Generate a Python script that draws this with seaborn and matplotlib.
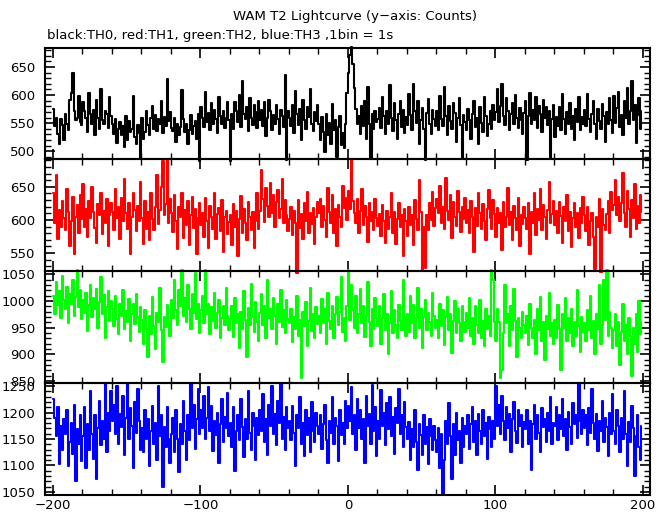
import numpy as np
import pandas as pd
import matplotlib
matplotlib.use("Agg")
import matplotlib.pyplot as plt
from matplotlib.ticker import MultipleLocator
import seaborn as sns

# time bins (1 bin = 1 s), start of each bin relative to trigger
time_s = list(range(-200, 200))

th0_counts = [
    575, 545, 560, 530, 512, 558, 547, 520, 566, 549, 538, 592, 603, 640, 571, 556, 560, 598, 552, 547,
    588, 571, 560, 535, 604, 566, 548, 573, 529, 591, 560, 540, 610, 555, 548, 572, 566, 541, 597, 562,
    548, 531, 557, 514, 540, 552, 528, 545, 507, 562, 519, 553, 535, 540, 598, 525, 513, 546, 533, 488,
    560, 522, 534, 571, 547, 529, 559, 581, 540, 565, 536, 557, 548, 590, 532, 561, 544, 628, 553, 570,
    541, 536, 560, 517, 549, 528, 543, 609, 557, 534, 548, 512, 538, 565, 530, 545, 553, 521, 567, 482,
    579, 560, 543, 605, 552, 568, 538, 586, 549, 574, 557, 532, 596, 563, 548, 571, 541, 560, 587, 555,
    482, 566, 540, 588, 571, 552, 601, 543, 625, 567, 558, 579, 536, 594, 560, 547, 583, 569, 541, 590,
    556, 574, 545, 588, 527, 560, 592, 571, 538, 565, 549, 582, 557, 530, 574, 562, 543, 635, 484, 571,
    560, 545, 583, 532, 608, 566, 547, 575, 520, 592, 556, 540, 578, 561, 610, 549, 536, 570, 554, 582,
    548, 520, 561, 535, 498, 566, 529, 550, 512, 584, 537, 556, 490, 543, 562, 511, 532, 505, 548, 603,
    640, 672, 686, 655, 612, 575, 548, 562, 531, 580, 545, 590, 522, 615, 548, 486, 566, 539, 571, 552,
    558, 577, 541, 596, 563, 530, 572, 549, 618, 560, 536, 585, 555, 521, 567, 590, 543, 574, 532, 561,
    546, 602, 565, 538, 620, 571, 550, 589, 513, 556, 577, 540, 485, 568, 593, 549, 530, 574, 558, 545,
    571, 537, 599, 558, 544, 615, 562, 529, 581, 553, 540, 586, 568, 517, 560, 594, 547, 487, 565, 552,
    538, 575, 556, 521, 566, 590, 543, 560, 512, 578, 551, 535, 597, 562, 527, 548, 571, 540, 583, 556,
    569, 610, 552, 581, 620, 563, 547, 594, 571, 538, 566, 585, 549, 601, 560, 542, 577, 555, 531, 568,
    589, 485, 562, 604, 548, 573, 556, 597, 541, 580, 566, 535, 592, 560, 578, 546, 571, 488, 558, 583,
    526, 561, 545, 579, 538, 602, 557, 531, 570, 548, 586, 540, 563, 519, 575, 552, 596, 537, 561, 549,
    573, 544, 602, 558, 535, 567, 590, 549, 521, 576, 553, 540, 584, 562, 517, 569, 548, 595, 556, 533,
    598, 551, 577, 606, 543, 565, 529, 589, 560, 613, 548, 572, 626, 555, 583, 515, 564, 595, 540, 571,
]
th1_counts = [
    640, 595, 668, 572, 615, 590, 628, 603, 585, 647, 612, 560, 598, 634, 549, 605, 622, 580, 637, 601,
    655, 590, 617, 574, 629, 603, 650, 612, 588, 566, 624, 607, 641, 579, 613, 596, 632, 560, 608, 625,
    612, 585, 646, 603, 620, 571, 633, 598, 662, 610, 587, 626, 549, 604, 640, 615, 583, 621, 598, 657,
    603, 563, 629, 587, 612, 570, 640, 601, 585, 620, 668, 594, 615, 650, 689, 607, 624, 690, 596, 632,
    611, 582, 637, 598, 556, 619, 604, 641, 573, 615, 593, 628, 562, 607, 634, 588, 616, 549, 603, 625,
    592, 610, 575, 633, 598, 557, 621, 605, 586, 640, 572, 609, 618, 583, 630, 552, 604, 614, 579, 597,
    608, 562, 624, 589, 613, 545, 601, 636, 580, 617, 596, 570, 627, 604, 585, 612, 558, 598, 640, 586,
    614, 675, 632, 597, 648, 621, 604, 656, 611, 638, 590, 627, 645, 603, 617, 662, 596, 630, 607, 584,
    602, 620, 578, 613, 596, 520, 630, 588, 609, 571, 625, 599, 642, 580, 611, 594, 618, 563, 605, 627,
    610, 632, 589, 621, 600, 574, 648, 612, 595, 637, 581, 616, 560, 623, 605, 590, 652, 618, 633, 600,
    644, 617, 690, 628, 611, 596, 631, 580, 613, 647, 592, 621, 604, 567, 625, 598, 612, 585, 631, 603,
    591, 609, 576, 622, 598, 566, 614, 587, 604, 640, 580, 612, 563, 601, 625, 589, 607, 545, 616, 598,
    576, 620, 593, 608, 562, 630, 601, 585, 660, 612, 525, 590, 528, 607, 585, 625, 600, 642, 591, 618,
    632, 610, 651, 596, 620, 587, 664, 614, 600, 638, 573, 627, 605, 591, 643, 612, 582, 619, 601, 633,
    596, 615, 580, 629, 605, 552, 618, 591, 640, 611, 586, 624, 599, 570, 616, 645, 603, 587, 630, 609,
    575, 618, 596, 610, 554, 627, 589, 604, 648, 592, 612, 570, 621, 603, 585, 633, 560, 608, 594, 619,
    603, 587, 626, 548, 612, 595, 640, 578, 617, 600, 646, 585, 623, 604, 571, 615, 657, 596, 609, 628,
    592, 613, 580, 627, 606, 566, 619, 598, 637, 584, 612, 559, 603, 625, 590, 610, 573, 618, 596, 634,
    608, 583, 620, 562, 598, 611, 574, 526, 604, 590, 632, 522, 617, 593, 585, 609, 628, 580, 642, 615,
    622, 660, 607, 635, 598, 626, 671, 611, 590, 644, 616, 575, 630, 603, 654, 587, 621, 596, 638, 612,
]
th2_counts = [
    1010, 975, 1035, 992, 1018, 968, 1047, 1001, 985, 1026, 958, 1012, 995, 1040, 972, 1008, 1058, 988, 1020, 966,
    1002, 978, 1015, 943, 992, 1030, 969, 1006, 985, 1022, 950, 997, 1044, 975, 1011, 930, 988, 1018, 962, 1000,
    985, 952, 1010, 966, 938, 995, 972, 1020, 948, 981, 960, 1004, 925, 976, 994, 957, 1012, 970, 941, 988,
    965, 920, 982, 948, 895, 971, 938, 1008, 952, 910, 978, 960, 1025, 945, 885, 970, 951, 992, 962, 935,
    1001, 968, 1040, 982, 955, 1020, 991, 1058, 972, 1005, 960, 1030, 985, 947, 1012, 978, 1052, 966, 995, 940,
    982, 1010, 958, 1058, 975, 995, 937, 988, 962, 1015, 950, 978, 1002, 930, 968, 991, 955, 1024, 972, 945,
    966, 990, 932, 1005, 958, 975, 912, 980, 948, 1018, 964, 895, 987, 955, 1032, 970, 941, 998, 960, 925,
    978, 1012, 955, 990, 930, 1040, 968, 985, 947, 1006, 972, 920, 995, 960, 1020, 951, 983, 940, 1001, 966,
    958, 985, 922, 970, 948, 1010, 935, 965, 855, 980, 952, 998, 915, 962, 1025, 944, 975, 930, 988, 956,
    972, 940, 1003, 958, 985, 920, 1015, 962, 948, 990, 930, 975, 1008, 955, 980, 1045, 942, 968, 925, 990,
    1058, 965, 1030, 982, 950, 1010, 940, 975, 1022, 958, 990, 932, 972, 1035, 960, 915, 985, 948, 1005, 968,
    952, 990, 920, 968, 1012, 945, 975, 900, 958, 1018, 940, 982, 955, 930, 992, 962, 945, 1040, 968, 935,
    975, 942, 1010, 958, 992, 930, 968, 1025, 950, 985, 912, 970, 1002, 945, 978, 960, 935, 1015, 972, 950,
    965, 930, 995, 952, 982, 918, 970, 1008, 945, 975, 903, 962, 1000, 940, 985, 958, 925, 990, 960, 942,
    978, 950, 1005, 935, 968, 920, 990, 955, 940, 1002, 930, 962, 915, 985, 948, 972, 935, 1058, 1040, 960,
    925, 985, 960, 855, 870, 940, 1030, 958, 975, 915, 990, 945, 1022, 962, 895, 968, 950, 930, 980, 955,
    940, 972, 918, 995, 950, 930, 965, 900, 985, 945, 1008, 925, 960, 890, 972, 948, 1015, 935, 958, 920,
    965, 930, 992, 948, 870, 975, 950, 1005, 925, 968, 940, 985, 915, 960, 935, 1020, 952, 905, 970, 942,
    958, 925, 982, 945, 1010, 930, 962, 900, 975, 948, 1030, 920, 955, 1040, 965, 1058, 935, 980, 950, 912,
    945, 975, 915, 960, 880, 942, 995, 925, 955, 900, 968, 935, 860, 950, 920, 975, 905, 1000, 938, 960,
]
th3_counts = [
    1225, 1190, 1155, 1210, 1102, 1175, 1130, 1188, 1160, 1205, 1098, 1145, 1180, 1122, 1215, 1070, 1168, 1140, 1196, 1108,
    1155, 1210, 1095, 1178, 1130, 1240, 1160, 1112, 1195, 1075, 1170, 1222, 1138, 1185, 1150, 1255, 1125, 1200, 1165, 1240,
    1185, 1215, 1160, 1250, 1140, 1198, 1172, 1232, 1120, 1190, 1255, 1150, 1208, 1175, 1095, 1220, 1162, 1245, 1185, 1130,
    1170, 1125, 1205, 1150, 1188, 1098, 1165, 1212, 1140, 1180, 1110, 1250, 1155, 1195, 1060, 1172, 1135, 1210, 1150, 1105,
    1160, 1190, 1125, 1205, 1150, 1088, 1178, 1140, 1222, 1165, 1110, 1195, 1148, 1255, 1170, 1215, 1132, 1188, 1245, 1160,
    1205, 1170, 1232, 1150, 1190, 1248, 1165, 1212, 1128, 1185, 1158, 1200, 1105, 1178, 1225, 1145, 1192, 1170, 1238, 1155,
    1180, 1135, 1210, 1090, 1165, 1195, 1148, 1225, 1172, 1115, 1188, 1150, 1240, 1162, 1130, 1200, 1175, 1110, 1190, 1158,
    1205, 1165, 1235, 1145, 1188, 1120, 1215, 1175, 1250, 1160, 1198, 1138, 1222, 1180, 1255, 1150, 1192, 1130, 1210, 1170,
    1185, 1148, 1212, 1162, 1098, 1195, 1170, 1230, 1140, 1180, 1118, 1205, 1158, 1190, 1125, 1220, 1165, 1145, 1200, 1175,
    1160, 1195, 1132, 1178, 1215, 1148, 1105, 1185, 1162, 1230, 1140, 1190, 1175, 1108, 1205, 1158, 1180, 1140, 1222, 1170,
    1212, 1185, 1248, 1160, 1195, 1130, 1225, 1170, 1205, 1150, 1188, 1105, 1232, 1175, 1198, 1140, 1252, 1165, 1210, 1118,
    1185, 1150, 1242, 1175, 1200, 1138, 1218, 1168, 1230, 1155, 1192, 1122, 1208, 1180, 1245, 1160, 1195, 1135, 1220, 1172,
    1150, 1182, 1110, 1168, 1135, 1205, 1145, 1092, 1178, 1158, 1120, 1195, 1140, 1172, 1102, 1188, 1155, 1130, 1175, 1148,
    1125, 1170, 1095, 1160, 1045, 1110, 1185, 1140, 1218, 1155, 1075, 1178, 1120, 1200, 1148, 1165, 1105, 1190, 1135, 1175,
    1160, 1195, 1132, 1178, 1210, 1145, 1185, 1120, 1198, 1165, 1140, 1205, 1155, 1180, 1112, 1192, 1168, 1135, 1185, 1150,
    1250, 1175, 1215, 1160, 1232, 1185, 1148, 1210, 1170, 1198, 1125, 1188, 1220, 1165, 1142, 1205, 1175, 1195, 1135, 1182,
    1168, 1205, 1140, 1185, 1092, 1178, 1215, 1150, 1195, 1162, 1125, 1208, 1172, 1188, 1145, 1200, 1165, 1230, 1140, 1180,
    1175, 1210, 1148, 1195, 1168, 1225, 1155, 1188, 1130, 1202, 1172, 1140, 1218, 1178, 1195, 1152, 1255, 1185, 1160, 1205,
    1170, 1195, 1138, 1208, 1162, 1245, 1180, 1150, 1198, 1128, 1185, 1165, 1222, 1145, 1190, 1172, 1118, 1200, 1160, 1235,
    1165, 1140, 1205, 1175, 1125, 1190, 1150, 1240, 1160, 1098, 1182, 1145, 1212, 1170, 1080, 1155, 1195, 1135, 1110, 1175,
]

channels = ["TH0", "TH1", "TH2", "TH3"]
colors = ["black", "red", "#00ff00", "blue"]
ylims = [(486, 684), (523, 692), (846, 1056), (1044, 1256)]

sns.set_style("ticks")
plt.rcParams["font.family"] = ["DejaVu Sans"]
plt.rcParams["text.color"] = "black"
plt.rcParams["xtick.labelcolor"] = "black"
plt.rcParams["ytick.labelcolor"] = "black"

fig = plt.figure(figsize=(6.69, 5.15), dpi=100)

# panel edges in pixels from top
panel_px = [(48, 159), (159, 271), (271, 383), (383, 495)]
left, right = 45 / 669, 650 / 669

axes = []
for i, (ch, col, yl, counts) in enumerate(zip(channels, colors, ylims,
                                              [th0_counts, th1_counts, th2_counts, th3_counts])):
    top_px, bot_px = panel_px[i]
    ax = fig.add_axes([left, 1 - bot_px / 515, right - left, (bot_px - top_px) / 515])
    df = pd.DataFrame({"time": time_s, "counts": counts})
    sns.lineplot(data=df, x="time", y="counts", ax=ax, color=col, lw=1.5,
                 estimator=None, drawstyle="steps-post", clip_on=False, zorder=2)
    ax.set_xlim(-205.4, 204.8)
    ax.set_ylim(*yl)
    ax.set_xlabel("")
    ax.set_ylabel("")
    ax.xaxis.set_major_locator(MultipleLocator(100))
    ax.xaxis.set_minor_locator(MultipleLocator(20))
    ax.yaxis.set_major_locator(MultipleLocator(50))
    ax.yaxis.set_minor_locator(MultipleLocator(10))
    ax.tick_params(which="both", direction="in", top=True, right=True, color="black")
    ax.tick_params(which="major", length=7, width=1.2, labelsize=9.5)
    ax.tick_params(which="minor", length=4, width=1.0)
    ax.tick_params(axis="y", pad=7)
    ax.tick_params(axis="x", pad=3, labelbottom=(i == 3))
    for sp in ax.spines.values():
        sp.set_linewidth(1.5)
        sp.set_color("black")
        sp.set_zorder(3)
    ax.patch.set_alpha(0)
    axes.append(ax)

fig.text(0.53, 0.967, "WAM T2 Lightcurve (y\u2212axis: Counts)", ha="center", va="center", fontsize=9.5)
fig.text(47 / 669, 0.932, "black:TH0, red:TH1, green:TH2, blue:TH3 ,1bin = 1s",
         ha="left", va="center", fontsize=9.5)

fig.savefig("out.png", dpi=100, facecolor="white")
